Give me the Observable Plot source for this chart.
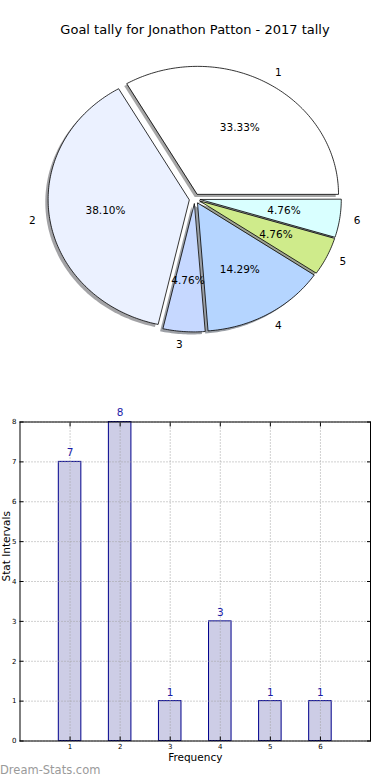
<!DOCTYPE html>
<html>
<head>
<meta charset="utf-8">
<script src="https://cdn.jsdelivr.net/npm/d3@7"></script>
<script src="https://cdn.jsdelivr.net/npm/@observablehq/plot@0.6"></script>
<style>
  html, body { margin: 0; padding: 0; background: #fff; }
  body { width: 390px; height: 780px; position: relative; overflow: hidden; font-family: "DejaVu Sans", sans-serif; }
  #title { position: absolute; left: 0; width: 390px; top: 22px; text-align: center; font-size: 13px; line-height: 16px; color: #000; }
  #pie { position: absolute; left: 0; top: 40px; }
  #bars { position: absolute; left: 0; top: 400px; }
  #mark { position: absolute; left: 0; top: 763px; font-size: 11.5px; line-height: 14px; color: #9a9a9a; }
  svg { overflow: visible; }
</style>
</head>
<body>
<div id="title">Goal tally for Jonathon Patton - 2017 tally</div>
<div id="pie"></div>
<div id="bars"></div>
<div id="mark">Dream-Stats.com</div>
<script>
// ---- data ----
const categories = ["1", "2", "3", "4", "5", "6"];
const goals = [7, 8, 1, 3, 1, 1];
const pieColors = ["#ffffff", "#ebf1ff", "#c6d8ff", "#b5d5ff", "#cfeb8b", "#d9ffff"];
const xTicks = [1, 2, 3, 4, 5, 6];
const yTicks = [0, 1, 2, 3, 4, 5, 6, 7, 8];

// ---- pie layout (matplotlib-like: start at 0deg, counter-clockwise) ----
const total = d3.sum(goals);
const explode = 0.04, labelDist = 1.1, pctDist = 0.6, shadowOff = -0.02;
let acc = 0;
const slices = goals.map((v, i) => {
  const t1 = acc / total * 2 * Math.PI; acc += v;
  const t2 = acc / total * 2 * Math.PI;
  const mid = (t1 + t2) / 2;
  const cx = explode * Math.cos(mid), cy = explode * Math.sin(mid);
  return {cat: categories[i], value: v, t1, t2, mid, cx, cy,
    pct: (v / total * 100).toFixed(2) + "%",
    lx: cx + labelDist * Math.cos(mid), ly: cy + labelDist * Math.sin(mid),
    px: cx + pctDist * Math.cos(mid), py: cy + pctDist * Math.sin(mid)};
});
const wedgePts = [];
for (const s of slices) {
  wedgePts.push({cat: s.cat, x: s.cx, y: s.cy});
  const n = Math.max(2, Math.ceil((s.t2 - s.t1) / (Math.PI / 180)));
  for (let k = 0; k <= n; k++) {
    const t = s.t1 + (s.t2 - s.t1) * k / n;
    wedgePts.push({cat: s.cat, x: s.cx + Math.cos(t), y: s.cy + Math.sin(t)});
  }
}
const shadowColor = c => { const r = d3.rgb(c); return d3.rgb(r.r * 0.3, r.g * 0.3, r.b * 0.3).formatHex(); };

const pie = Plot.plot({
  width: 390, height: 320,
  margin: 0,
  x: {domain: [-194.2 / 141, (390 - 194.2) / 141], axis: null},
  y: {domain: [-(320 - 158.3) / 128, 158.3 / 128], axis: null},
  color: {domain: categories, range: pieColors},
  style: {fontFamily: "DejaVu Sans", fontSize: "10.5px", background: "transparent"},
  marks: [
    Plot.line(wedgePts, {x: d => d.x + shadowOff, y: d => d.y + shadowOff, z: "cat",
      fill: d => shadowColor(pieColors[categories.indexOf(d.cat)]), fillOpacity: 0.5,
      stroke: "none", curve: "linear-closed"}),
    Plot.line(wedgePts, {x: "x", y: "y", z: "cat", fill: "cat", stroke: "#000",
      strokeWidth: 0.8, curve: "linear-closed"}),
    Plot.text(slices.filter(s => Math.cos(s.mid) > 0), {x: "lx", y: "ly", text: "cat", textAnchor: "start", fill: "#000"}),
    Plot.text(slices.filter(s => !(Math.cos(s.mid) > 0)), {x: "lx", y: "ly", text: "cat", textAnchor: "end", fill: "#000"}),
    Plot.text(slices, {x: "px", y: "py", text: "pct", textAnchor: "middle", fill: "#000"})
  ]
});
document.getElementById("pie").appendChild(pie);

// ---- bar chart ----
const barData = categories.map((c, i) => ({cat: +c, value: goals[i]}));
const halfW = 0.225;
const bars = Plot.plot({
  width: 390, height: 380,
  marginLeft: 19.5, marginRight: 20, marginTop: 21.5, marginBottom: 39.5,
  x: {domain: [0, 7]},
  y: {domain: [0, 8]},
  style: {fontFamily: "DejaVu Sans", background: "transparent"},
  marks: [
    Plot.rectY(barData, {x1: d => d.cat - halfW, x2: d => d.cat + halfW, y1: 0, y2: "value",
      fill: "#cdcde6", stroke: "#00008b", strokeWidth: 1}),
    Plot.gridX({ticks: xTicks, stroke: "#a0a0a0", strokeOpacity: 1, strokeDasharray: "1,2"}),
    Plot.gridY({ticks: yTicks, stroke: "#a0a0a0", strokeOpacity: 1, strokeDasharray: "1,2"}),
    Plot.frame({stroke: "#000", strokeWidth: 1}),
    Plot.axisX({ticks: xTicks, tickFormat: "d", tickSize: -4, tickPadding: 7, fontSize: 7, label: null}),
    Plot.axisX({ticks: xTicks, anchor: "top", tickSize: -4, tickFormat: () => "", label: null}),
    Plot.axisY({ticks: yTicks, tickFormat: "d", tickSize: -4, tickPadding: 7.5, fontSize: 7, label: null}),
    Plot.axisY({ticks: yTicks, anchor: "right", tickSize: -4, tickFormat: () => "", label: null}),
    Plot.text(barData, {x: "cat", y: "value", text: d => String(d.value), dy: -9,
      fill: "#1c1ca8", fontSize: 10.5}),
    Plot.text(["Frequency"], {frameAnchor: "bottom", dy: 20, fontSize: 10.5, fill: "#000"}),
    Plot.text(["Stat Intervals"], {frameAnchor: "left", dx: -13, rotate: -90, fontSize: 10.5, fill: "#000"})
  ]
});
document.getElementById("bars").appendChild(bars);
</script>
</body>
</html>
